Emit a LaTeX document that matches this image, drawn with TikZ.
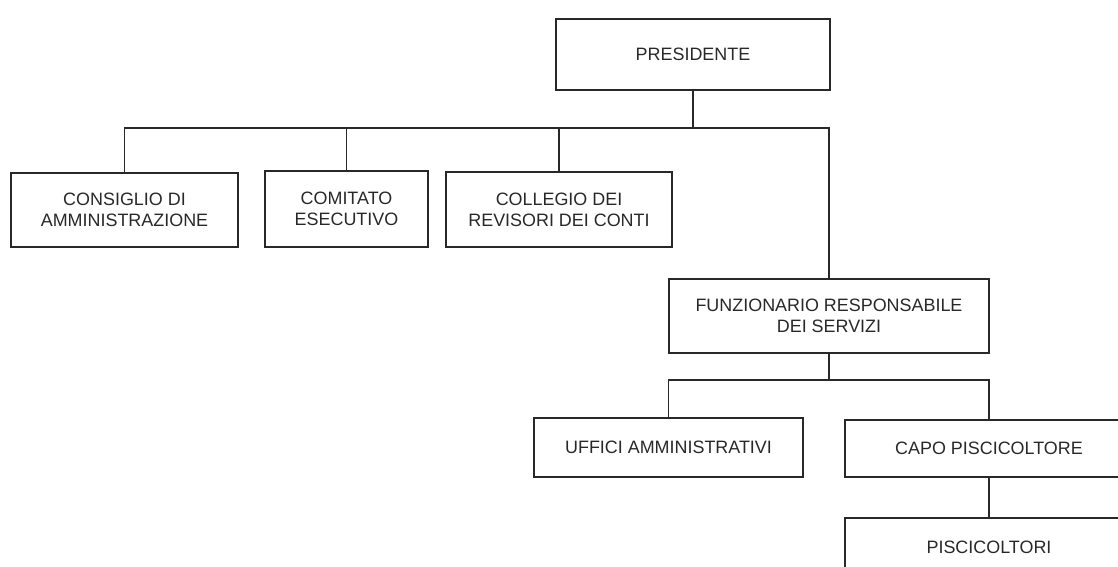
\documentclass[tikz,border=0pt]{standalone}
\usepackage{fontspec}
\setmainfont{Liberation Sans}
\definecolor{txtgray}{RGB}{40,40,40}
\definecolor{linegray}{RGB}{40,40,40}

\begin{document}
\begin{tikzpicture}[
        box/.style={draw=linegray, line width=1pt, text=txtgray, align=center,
            inner sep=0pt, font=\fontsize{10.2}{12}\selectfont},
        link/.style={draw=linegray, line width=1pt}]
    \useasboundingbox (0,0) rectangle (22.36,11.34);
    \clip (0,0) rectangle (22.36,11.34);

    \node[box, minimum width=5.48cm, minimum height=1.42cm] (pres) at (13.86,10.25) {PRESIDENTE};

    \node[box, minimum width=4.54cm, minimum height=1.48cm] (cons) at (2.49,7.14) {CONSIGLIO DI\\AMMINISTRAZIONE};
    \node[box, minimum width=3.26cm, minimum height=1.52cm] (comit) at (6.93,7.16) {COMITATO\\ESECUTIVO};
    \node[box, minimum width=4.52cm, minimum height=1.50cm] (coll) at (11.18,7.15) {COLLEGIO DEI\\REVISORI DEI CONTI};

    \node[box, minimum width=6.40cm, minimum height=1.48cm] (funz) at (16.58,5.02) {FUNZIONARIO RESPONSABILE\\DEI SERVIZI};

    \node[box, minimum width=5.38cm, minimum height=1.18cm] (uff) at (13.37,2.39) {UFFICI AMMINISTRATIVI};
    \node[box, minimum width=5.76cm, minimum height=1.14cm] (capo) at (19.78,2.37) {CAPO PISCICOLTORE};
    \node[box, minimum width=5.76cm, minimum height=1.16cm] (pisc) at (19.78,0.40) {PISCICOLTORI};

    % first level
    \draw[link] (pres.south) -- (pres.south |- 0,8.78) coordinate (bus1);
    \draw[link] (cons.north) |- (bus1) -| (funz.north);
    \draw[link] (comit.north) -- (comit.north |- bus1);
    \draw[link] (coll.north) -- (coll.north |- bus1);

    % second level
    \draw[link] (funz.south) -- (funz.south |- 0,3.74) coordinate (bus2);
    \draw[link] (uff.north) |- (bus2) -| (capo.north);
    \draw[link] (capo.south) -- (pisc.north);
\end{tikzpicture}
\end{document}
